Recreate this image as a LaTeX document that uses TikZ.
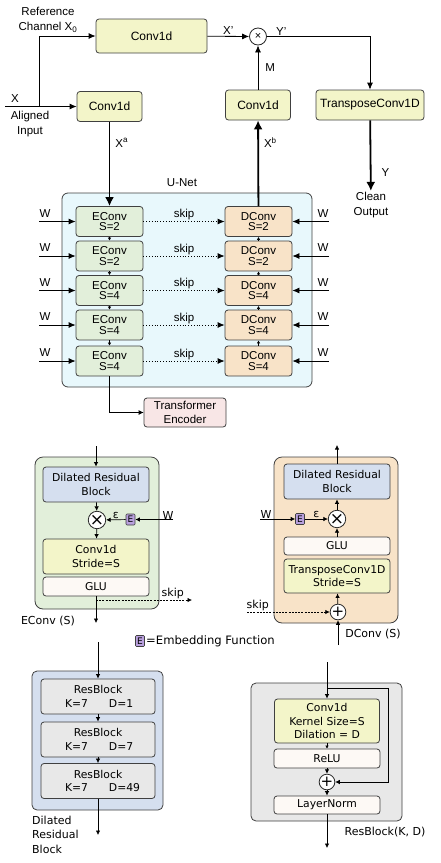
\documentclass[tikz,border=0pt]{standalone}
\usepackage{fontspec}
\setmainfont{Liberation Sans}
\newfontfamily\dvs{DejaVu Sans}
\usetikzlibrary{arrows.meta}
\definecolor{yelfill}{HTML}{F3F5C9}
\definecolor{encfill}{HTML}{E2EFDA}
\definecolor{decfill}{HTML}{F8E3C8}
\definecolor{unetfill}{HTML}{E8F8FC}
\definecolor{tffill}{HTML}{F8E6E6}
\definecolor{drbfill}{HTML}{D5DFEF}
\definecolor{resfill}{HTML}{E8E8E8}
\definecolor{glufill}{HTML}{FDF9F5}
\definecolor{embfill}{HTML}{B9A0DE}

\begin{document}
\begin{tikzpicture}[x=1pt, y=-1pt,
    box/.style={draw=black!75, line width=0.8pt, rounded corners=3pt, inner sep=0pt, align=center},
    tbox/.style={box, fill=yelfill, font=\fontsize{12}{14}\selectfont},
    ebox/.style={box, fill=encfill, minimum width=67pt, minimum height=30pt, font=\fontsize{11.5}{10.5}\selectfont},
    dbox/.style={box, fill=decfill, minimum width=67pt, minimum height=30pt, font=\fontsize{11.5}{10.5}\selectfont},
    ibox/.style={box, minimum width=106pt, font=\dvs\fontsize{10.8}{13.5}\selectfont},
    opc/.style={circle, draw=black!85, fill=white, line width=0.8pt, minimum size=17pt, inner sep=0pt},
    emb/.style={draw=black!75, fill=embfill, line width=0.6pt, rounded corners=1pt, minimum width=9pt, minimum height=11pt, inner sep=0pt, font=\dvs\fontsize{9}{9}\selectfont},
    lbl/.style={font=\fontsize{11.5}{15}\selectfont, align=center, inner sep=1pt},
    dlbl/.style={font=\dvs\fontsize{11}{14.5}\selectfont, inner sep=1pt},
    arr/.style={-{Latex[length=7pt,width=6pt]}, line width=0.8pt},
    bigarr/.style={-{Latex[length=9pt,width=9pt]}, line width=1.8pt},
    sarr/.style={-{Latex[length=4.5pt,width=4.5pt]}, line width=0.7pt},
    skipdash/.style={dash pattern=on 2pt off 1.2pt},
  ]
\useasboundingbox (0,0) rectangle (440,863);

\node[tbox, minimum width=111pt, minimum height=34pt] (c0) at (151.5,36) {Conv1d};
\node[tbox, minimum width=65pt, minimum height=30pt] (ca) at (109.5,106.5) {Conv1d};
\node[tbox, minimum width=65pt, minimum height=30pt] (cb) at (258,105) {Conv1d};
\node[tbox, minimum width=108pt, minimum height=30pt] (tc) at (370,105) {TransposeConv1D};
\node[opc] (m) at (258,36.5) {\fontsize{11}{11}\selectfont ×};
\node[lbl] (ref) at (48,20) {Reference\\Channel X\textsubscript{0}};
\node[lbl] (xl) at (15,99) {X};
\node[lbl] (al) at (30,124.5) {Aligned\\Input};
\node[lbl] (cln) at (371,205) {Clean\\Output};
\node[lbl] (ul) at (182,183) {U-Net};
\coordinate (xin) at (5,106.5);
\coordinate (br) at (39,106.5);

\draw[arr] (xin) -- (ca);
\draw[arr] (br) |- (c0);
\draw[arr] (c0) -- node[lbl, above] {X'} (m);
\draw[arr] (m) -- node[lbl, pos=0.14, above] {Y'} (m -| tc) -- (tc);
\draw[arr] (cb) -- node[lbl, right=6pt] {M} (m);

\node[box, fill=unetfill, rounded corners=6pt, minimum width=250pt, minimum height=194pt] (un) at (187,290) {};
\foreach \i/\y/\s in {1/221.5/2, 2/256/2, 3/290.5/4, 4/325/4, 5/361/4} {
  \node[ebox] (e\i) at (109.5,\y) {EConv\\S=\s};
  \node[dbox] (d\i) at (258.5,\y) {DConv\\S=\s};
  \coordinate (wl\i) at (39,\y);
  \coordinate (wr\i) at (329,\y);
  \draw[arr] (wl\i) -- (e\i);
  \draw[arr] (wr\i) -- (d\i);
  \node[lbl] at (45,\y-8) {W};
  \node[lbl] at (323,\y-8) {W};
  \draw[arr, dotted] (e\i) -- node[lbl, above] {skip} (d\i);
}
\foreach \i/\j in {1/2, 2/3, 3/4, 4/5} {
  \draw[sarr, -{Latex[length=3pt,width=3.5pt]}] (e\i) -- (e\j);
  \draw[sarr, -{Latex[length=3pt,width=3.5pt]}] (d\j) -- (d\i);
}
\draw[bigarr] (ca) -- node[lbl, pos=0.25, right=4pt] {X\textsuperscript{a}} (e1);
\draw[bigarr] (d1) -- node[lbl, pos=0.74, right=4pt] {X\textsuperscript{b}} (cb);
\draw[bigarr] (tc) -- node[lbl, pos=0.74, right=9pt] {Y} (cln);

\node[box, fill=tffill, minimum width=82pt, minimum height=29pt, font=\fontsize{11.5}{14}\selectfont] (te) at (185,412.5) {Transformer\\Encoder};
\draw[arr, -{Latex[length=5pt,width=5pt]}] (e5) |- (te);

\node[box, fill=encfill, rounded corners=8pt, minimum width=124pt, minimum height=152pt] (eo) at (97,533) {};
\coordinate (ein) at (96,446);
\node[ibox, fill=drbfill, minimum height=35pt] (drb1) at (96,484.5) {Dilated Residual\\Block};
\node[opc] (m1) at (97,520) {\dvs\fontsize{17}{17}\selectfont ×};
\node[emb] (em1) at (130.5,519.5) {E};
\coordinate (w1) at (173,519.5);
\node[ibox, fill=yelfill, minimum height=35pt] (cs1) at (96,556.5) {Conv1d\\Stride=S};
\node[ibox, fill=glufill, minimum height=19pt] (glu1) at (96,586.5) {GLU};
\coordinate (eout) at (96,623);
\coordinate (sk1a) at (96,600);
\coordinate (sk1b) at (192,600);
\node[dlbl] (el) at (48,621) {EConv (S)};

\draw[sarr] (ein) -- (drb1);
\draw[sarr] (drb1) -- (m1);
\draw[sarr] (m1) -- (cs1);
\draw[sarr] (em1) -- node[dlbl, above] {ε} (m1);
\draw[sarr] (w1) -- node[dlbl, pos=0.13, above, inner sep=0pt] {W} (em1);
\draw[sarr] (glu1) -- (eout);
\draw[sarr, skipdash] (sk1a) -- node[dlbl, pos=0.8, above] {skip} (sk1b);

\node[box, fill=decfill, rounded corners=8pt, minimum width=124pt, minimum height=166pt] (do) at (336,540) {};
\node[ibox, fill=drbfill, minimum height=35pt] (drb2) at (337,481.5) {Dilated Residual\\Block};
\coordinate (dout) at (337,445);
\node[opc] (m2) at (337,519) {\dvs\fontsize{17}{17}\selectfont ×};
\node[emb] (em2) at (300,519) {E};
\coordinate (w2) at (260,519);
\node[ibox, fill=glufill, minimum height=18pt] (glu2) at (337,546) {GLU};
\node[ibox, fill=yelfill, minimum height=34pt] (tc2) at (337,576) {TransposeConv1D\\Stride=S};
\node[opc, minimum size=14pt] (p2) at (338,612) {\dvs\fontsize{15}{15}\selectfont +};
\coordinate (sk2) at (247,612);
\coordinate (din) at (338,645);
\node[dlbl] (dl) at (373,634) {DConv (S)};

\draw[sarr] (din) -- (p2);
\draw[sarr] (p2) -- (tc2);
\draw[sarr] (glu2) -- (m2);
\draw[sarr] (m2) -- (drb2);
\draw[sarr] (drb2) -- (dout);
\draw[sarr] (w2) -- node[dlbl, pos=0.17, above, inner sep=0pt] {W} (em2);
\draw[sarr] (em2) -- node[dlbl, above] {ε} (m2);
\draw[sarr, skipdash] (sk2) -- node[dlbl, pos=0.13, above] {skip} (p2);

\node[emb] (lg) at (140,641) {E};
\node[dlbl, anchor=west, font=\dvs\fontsize{11.6}{14}\selectfont] (lgt) at (145,641) {=Embedding Function};

\node[box, fill=drbfill, rounded corners=5pt, minimum width=131pt, minimum height=139pt] (dro) at (97.5,740.5) {};
\coordinate (rin) at (98,642);
\foreach \i/\y/\d in {1/696.5/1, 2/739.5/7, 3/781/49} {
  \node[ibox, fill=resfill, minimum width=114pt, minimum height=35pt] (rb\i) at (98,\y) {ResBlock\\\makebox[44pt][l]{K=7}\makebox[22pt][l]{D=\d}};
}
\coordinate (rout) at (98,835);
\draw[sarr] (rin) -- (rb1);
\draw[sarr] (rb1) -- (rb2);
\draw[sarr] (rb2) -- (rb3);
\draw[sarr] (rb3) -- (rout);
\node[dlbl, align=left, anchor=west] (drl) at (31,834.5) {Dilated\\Residual\\Block};

\node[box, fill=resfill, rounded corners=5pt, minimum width=151pt, minimum height=138pt] (ro) at (326.5,752) {};
\coordinate (kin) at (327,662);
\coordinate (kb) at (327,688);
\coordinate (kr) at (388,688);
\node[ibox, fill=yelfill, minimum width=105pt, minimum height=44pt] (cv) at (327,721) {Conv1d\\Kernel Size=S\\Dilation = D};
\node[ibox, fill=glufill, minimum height=19pt] (rl) at (327,758.5) {ReLU};
\node[opc, minimum size=15pt] (p3) at (327,782) {\dvs\fontsize{15}{15}\selectfont +};
\node[ibox, fill=glufill, minimum height=18pt] (ln) at (327,805) {LayerNorm};
\coordinate (kout) at (327,848);
\node[dlbl] (rbl) at (385,832) {ResBlock(K, D)};

\draw[sarr] (kin) -- (cv);
\draw[sarr] (kb) -- (kr) |- (p3);
\draw[sarr, -{Latex[length=3pt,width=3.5pt]}] (cv) -- (rl);
\draw[sarr] (rl) -- (p3);
\draw[sarr] (p3) -- (ln);
\draw[sarr] (ln) -- (kout);
\end{tikzpicture}
\end{document}
